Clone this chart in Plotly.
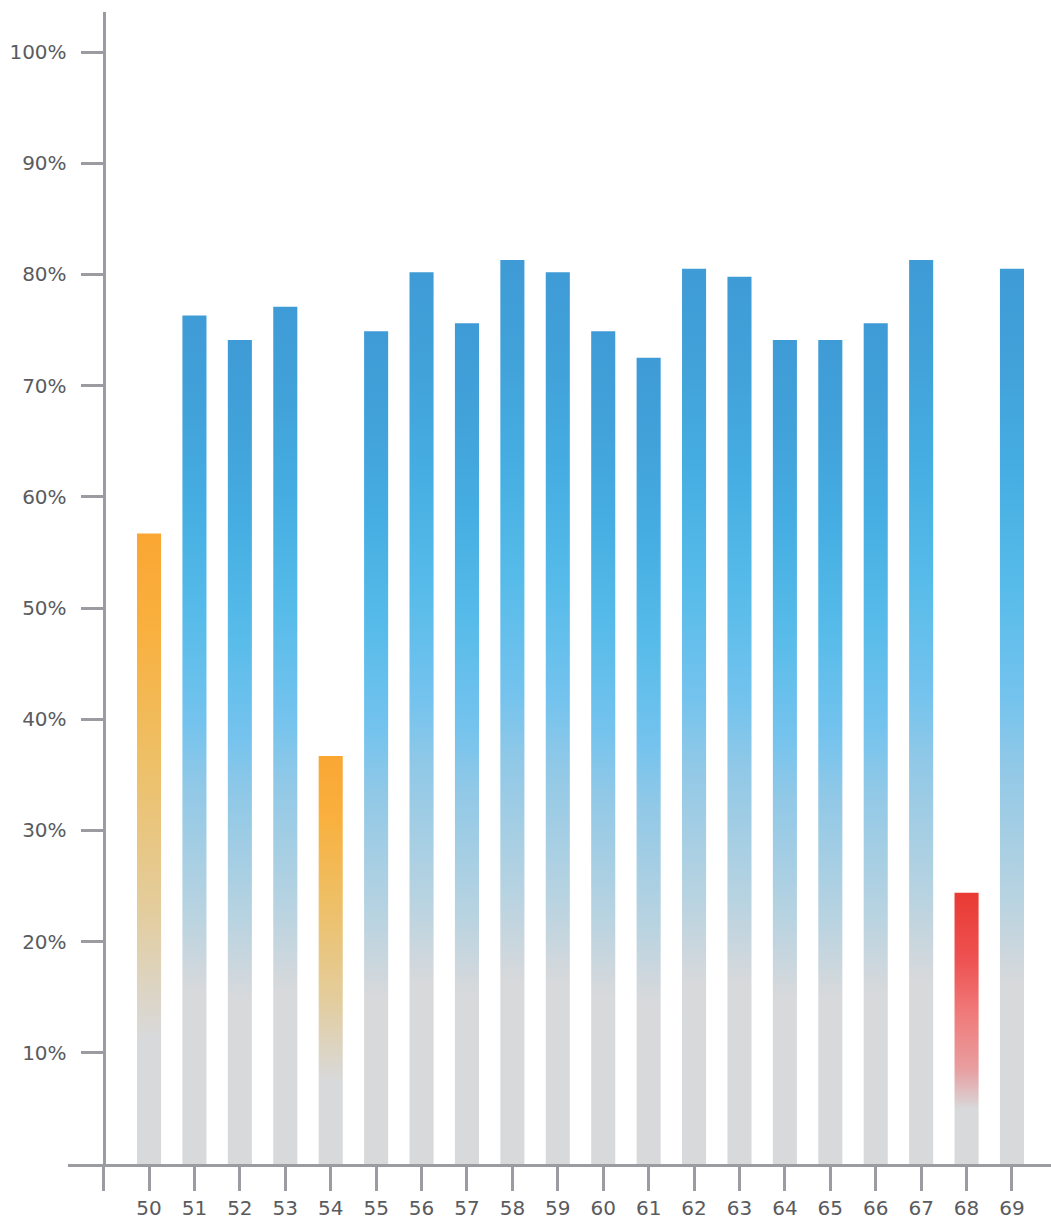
import plotly.graph_objects as go

categories = [50, 51, 52, 53, 54, 55, 56, 57, 58, 59, 60, 61, 62, 63, 64, 65, 66, 67, 68, 69]
values = [56.7, 76.3, 74.1, 77.1, 36.7, 74.9, 80.2, 75.6, 81.3, 80.2,
          74.9, 72.5, 80.5, 79.8, 74.1, 74.1, 75.6, 81.3, 24.4, 80.5]
status = ["warn", "ok", "ok", "ok", "warn", "ok", "ok", "ok", "ok", "ok",
          "ok", "ok", "ok", "ok", "ok", "ok", "ok", "ok", "bad", "ok"]
y_ticks = [10, 20, 30, 40, 50, 60, 70, 80, 90, 100]
y_ticktext = [f"{v}%" for v in y_ticks]

GRAY = "#d8d9db"
scales = {
    "ok": [[0, GRAY], [0.2, GRAY], [0.3, "#b7d3e1"], [0.45, "#8fc8e7"], [0.52, "#74c3ee"],
           [0.65, "#56bbe9"], [0.78, "#45ade2"], [0.9, "#41a1d9"], [1, "#3f9bd6"]],
    "warn": [[0, GRAY], [0.2, GRAY], [0.4, "#e3cd9e"], [0.65, "#eebf64"], [0.85, "#f9b03e"],
             [1, "#faa633"]],
    "bad": [[0, GRAY], [0.2, GRAY], [0.35, "#e89ea0"], [0.55, "#f07b7b"], [0.75, "#ee5252"],
            [1, "#e93a33"]],
}

BAR_W = 0.53
AXIS_COLOR = "#9a9ca1"
FONT_COLOR = "#5a5b5e"

fig = go.Figure()
for c, v, s in zip(categories, values, status):
    x0, x1 = c - BAR_W / 2, c + BAR_W / 2
    fig.add_trace(go.Scatter(
        x=[x0, x1, x1, x0, x0], y=[0, 0, v, v, 0],
        fill="toself", mode="lines", line=dict(width=0),
        fillgradient=dict(type="vertical", colorscale=scales[s]),
        hoverinfo="skip", showlegend=False,
    ))

x_range = [48.216, 69.859]
ypos = (49 - x_range[0]) / (x_range[1] - x_range[0])

fig.update_layout(
    width=1051, height=1222,
    margin=dict(l=68, r=0, t=12, b=58),
    paper_bgcolor="white", plot_bgcolor="white",
    font=dict(family="DejaVu Sans, Verdana, sans-serif", size=20, color=FONT_COLOR),
    xaxis=dict(
        range=x_range, showgrid=False, zeroline=False, automargin=False,
        showline=True, linecolor=AXIS_COLOR, linewidth=3,
        tickmode="array", tickvals=[49] + categories,
        ticktext=[""] + [str(c) for c in categories],
        ticks="outside", ticklen=24, tickwidth=3, tickcolor=AXIS_COLOR,
        ticklabelstandoff=0,
    ),
    yaxis=dict(
        range=[0, 103.6], showgrid=False, zeroline=False, automargin=False,
        anchor="free", position=ypos,
        showline=True, linecolor=AXIS_COLOR, linewidth=3,
        tickmode="array", tickvals=y_ticks, ticktext=y_ticktext,
        ticks="outside", ticklen=22, tickwidth=3, tickcolor=AXIS_COLOR,
        ticklabelstandoff=10,
    ),
)

fig.write_html("out.html")
